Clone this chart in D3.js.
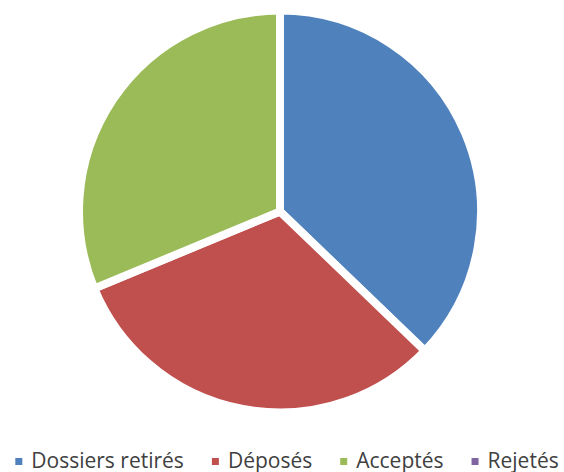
<!DOCTYPE html>
<html>
  <head>
    <meta charset="utf-8">
    <title>Dossiers</title>
    <script src="https://cdn.jsdelivr.net/npm/d3@7"></script>
    <style>
      body { margin: 0; background: #fff; }
    </style>
  </head>
  <body>
    <svg width="564" height="472" id="mainsvg"></svg>
    <script>

    // data
    const categories = ['Dossiers retirés', 'Déposés', 'Acceptés', 'Rejetés'];
    const values = [119, 101, 100, 0];
    const colors = ['#4F81BD', '#C0504D', '#9BBB59', '#8064A2'];

    const svg = d3.select('#mainsvg');
    const width = +svg.attr('width');

    const cx = 280, cy = 211.5, radius = 201;

    const color = d3.scaleOrdinal().domain(categories).range(colors);

    const pie = d3.pie().sort(null).value(d => d.value);
    const arc = d3.arc().innerRadius(0).outerRadius(radius);

    const data = categories.map((c, i) => ({ name: c, value: values[i] }));

    svg.append('g')
      .attr('transform', `translate(${cx},${cy})`)
      .selectAll('path')
      .data(pie(data).filter(d => d.data.value > 0))
      .enter().append('path')
      .attr('d', arc)
      .attr('fill', d => color(d.data.name))
      .attr('stroke', '#fff')
      .attr('stroke-width', 8)
      .attr('stroke-linejoin', 'miter');

    // legend along the bottom
    const legend = svg.append('g').attr('class', 'legend');
    const items = legend.selectAll('g')
      .data(categories)
      .enter().append('g');

    items.append('rect')
      .attr('width', 7).attr('height', 7)
      .attr('y', 458)
      .attr('fill', d => color(d));

    items.append('text')
      .attr('x', 16)
      .attr('y', 468)
      .style('font-family', '"Open Sans", sans-serif')
      .style('font-size', '21px')
      .attr('fill', '#404040')
      .text(d => d);

    let x = 0;
    items.each(function () {
      const w = d3.select(this).select('text').node().getComputedTextLength();
      d3.select(this).attr('transform', `translate(${x},0)`);
      x += 16 + w + 28;
    });
    const total = x - 28;
    legend.attr('transform', `translate(${287 - total / 2},0)`);

  </script>
  </body>
</html>
